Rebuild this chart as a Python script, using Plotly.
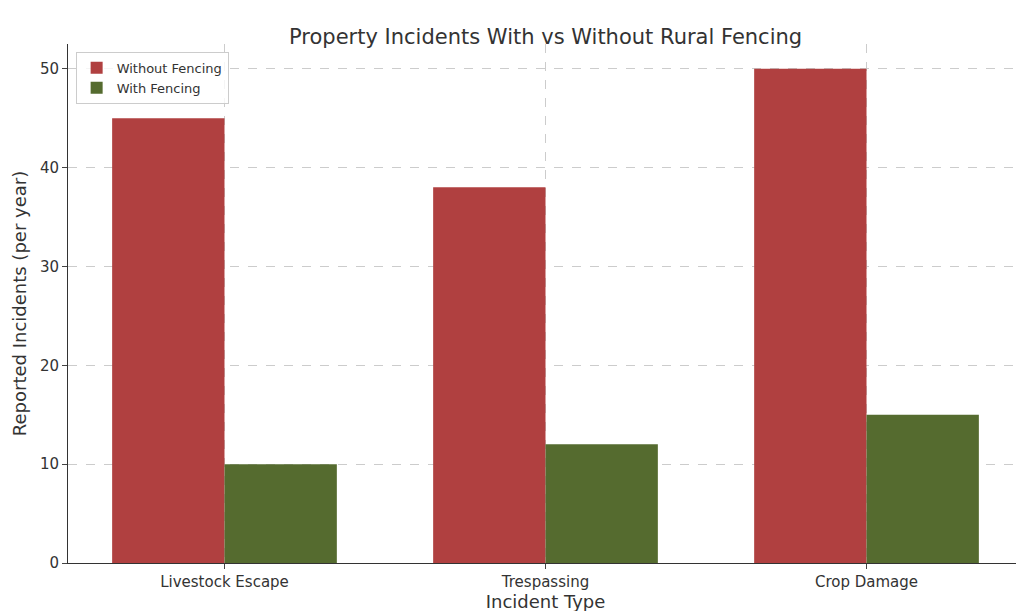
import plotly.graph_objects as go

categories = ["Livestock Escape", "Trespassing", "Crop Damage"]
without_fencing = [45, 38, 50]
with_fencing = [10, 12, 15]

fig = go.Figure()
fig.add_bar(x=categories, y=without_fencing, name="Without Fencing",
            marker=dict(color="#b04040", line=dict(width=0)))
fig.add_bar(x=categories, y=with_fencing, name="With Fencing",
            marker=dict(color="#556b2f", line=dict(width=0)))

fig.update_layout(
    width=1024, height=611,
    barmode="group", bargap=0.3, bargroupgap=0,
    plot_bgcolor="white", paper_bgcolor="white",
    font=dict(family="DejaVu Sans", size=15, color="#333333"),
    title=dict(text="Property Incidents With vs Without Rural Fencing", x=0.525, y=0.965,
               xanchor="center", font=dict(size=21, color="#333333")),
    margin=dict(l=60, r=9, t=36, b=56),
    legend=dict(x=0.008, y=0.985, xanchor="left", yanchor="top",
                bordercolor="#cccccc", borderwidth=1, bgcolor="rgba(255,255,255,0.8)",
                font=dict(size=13)),
    xaxis=dict(title=dict(text="Incident Type", standoff=4), range=[-0.4875, 2.4875],
               showline=True, linecolor="#333333", ticks="outside", ticklen=5,
               showgrid=True, gridcolor="#cccccc", griddash="dash"),
    yaxis=dict(title=dict(text="Reported Incidents (per year)", standoff=8), range=[0, 52.5],
               dtick=10, showline=True, linecolor="#333333", ticks="outside", ticklen=5,
               showgrid=True, gridcolor="#cccccc", griddash="dash", zeroline=False),
)
fig.write_html("out.html")
